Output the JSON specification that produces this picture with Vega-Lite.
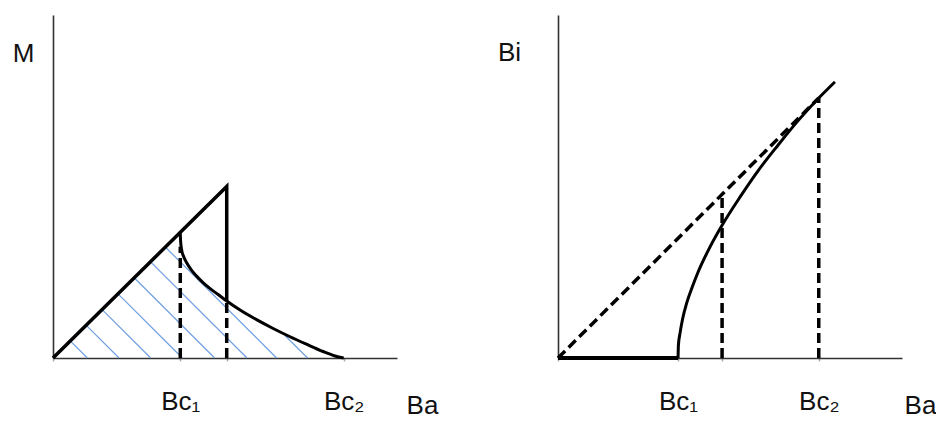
{
  "$schema": "https://vega.github.io/schema/vega-lite/v6.json",
  "autosize": {"type": "pad"},
  "padding": {"left": 12, "top": 15, "right": 0, "bottom": 0},
  "background": "white",
  "config": {
    "view": {"stroke": null},
    "font": "Liberation Sans",
    "axis": {
      "grid": false,
      "domainColor": "#333333",
      "domainWidth": 1.6,
      "titleFont": "Liberation Sans",
      "titleFontSize": 26,
      "titleFontWeight": "normal",
      "titleColor": "#111111",
      "labelFont": "Liberation Sans",
      "labelFontSize": 26,
      "labelColor": "#111111"
    },
    "axisX": {
      "tickColor": "#aaaaaa",
      "tickWidth": 1.5,
      "tickSize": 3,
      "labelPadding": 27,
      "labelOverlap": false,
      "labelFlush": false,
      "labelBound": false,
      "titleAlign": "center",
      "titleBaseline": "alphabetic"
    },
    "axisY": {
      "ticks": false,
      "labels": false,
      "titleAngle": 0,
      "titleAlign": "center",
      "titleBaseline": "alphabetic"
    }
  },
  "datasets": {
    "left_hatch": [
      {"ba": 1.0, "m": 0, "ba2": 0.5, "m2": 0.5},
      {"ba": 1.92, "m": 0, "ba2": 0.96, "m2": 0.96},
      {"ba": 2.84, "m": 0, "ba2": 1.43, "m2": 1.41},
      {"ba": 3.76, "m": 0, "ba2": 1.89, "m2": 1.87},
      {"ba": 4.7, "m": 0, "ba2": 2.36, "m2": 2.34},
      {"ba": 5.64, "m": 0, "ba2": 2.83, "m2": 2.81},
      {"ba": 6.5, "m": 0, "ba2": 3.27, "m2": 3.23},
      {"ba": 7.4, "m": 0, "ba2": 6.75, "m2": 0.65}
    ],
    "left_envelope": [
      {"i": 0, "ba": 0, "m": 0},
      {"i": 1, "ba": 5.05, "m": 5.0},
      {"i": 2, "ba": 5.05, "m": 1.66}
    ],
    "left_curve": [
      {"ba": 3.7, "m": 3.64},
      {"ba": 3.71, "m": 3.4},
      {"ba": 3.74, "m": 3.15},
      {"ba": 3.8, "m": 2.95},
      {"ba": 3.89, "m": 2.77},
      {"ba": 4.02, "m": 2.57},
      {"ba": 4.18, "m": 2.38},
      {"ba": 4.36, "m": 2.2},
      {"ba": 4.56, "m": 2.03},
      {"ba": 4.8, "m": 1.85},
      {"ba": 5.05, "m": 1.66},
      {"ba": 5.45, "m": 1.39},
      {"ba": 5.93, "m": 1.11},
      {"ba": 6.4, "m": 0.86},
      {"ba": 6.89, "m": 0.62},
      {"ba": 7.35, "m": 0.41},
      {"ba": 7.85, "m": 0.19},
      {"ba": 8.2, "m": 0.06},
      {"ba": 8.45, "m": 0.0}
    ],
    "left_dash": [
      {"ba": 3.7, "m": 0, "ba2": 3.7, "m2": 3.24},
      {"ba": 5.05, "m": 0, "ba2": 5.05, "m2": 1.66}
    ],
    "right_base": [
      {"ba": 0, "m": 0, "ba2": 3.49, "m2": 0}
    ],
    "right_curve": [
      {"ba": 3.49, "m": 0},
      {"ba": 3.5, "m": 0.37},
      {"ba": 3.55, "m": 0.74},
      {"ba": 3.62, "m": 1.13},
      {"ba": 3.74, "m": 1.6},
      {"ba": 3.9, "m": 2.06},
      {"ba": 4.07, "m": 2.5},
      {"ba": 4.42, "m": 3.24},
      {"ba": 4.77, "m": 3.87},
      {"ba": 5.29, "m": 4.69},
      {"ba": 5.81, "m": 5.45},
      {"ba": 6.4, "m": 6.21},
      {"ba": 6.98, "m": 6.92},
      {"ba": 7.58, "m": 7.58},
      {"ba": 8.05, "m": 8.05}
    ],
    "right_dash": [
      {"ba": 0, "m": 0, "ba2": 7.58, "m2": 7.58},
      {"ba": 4.77, "m": 0, "ba2": 4.77, "m2": 4.72},
      {"ba": 7.58, "m": 0, "ba2": 7.58, "m2": 7.58}
    ]
  },
  "spacing": 161,
  "bounds": "flush",
  "hconcat": [
    {
      "width": 344,
      "height": 343,
      "encoding": {
        "x": {
          "field": "ba", "type": "quantitative", "title": "Ba",
          "scale": {"domain": [0, 10], "nice": false},
          "axis": {
            "values": [0, 3.7, 5.05, 8.45],
            "labelExpr": "datum.value == 3.7 ? 'Bc₁' : datum.value == 8.45 ? 'Bc₂' : ''",
            "titleX": 369, "titleY": 55
          }
        },
        "y": {
          "field": "m", "type": "quantitative", "title": "M",
          "scale": {"domain": [0, 10], "nice": false},
          "axis": {"titleX": -30, "titleY": 46}
        }
      },
      "layer": [
        {
          "data": {"name": "left_hatch"},
          "mark": {"type": "rule", "color": "#6f9fe2", "strokeWidth": 1.2},
          "encoding": {"x2": {"field": "ba2"}, "y2": {"field": "m2"}}
        },
        {
          "data": {"name": "left_dash"},
          "mark": {"type": "rule", "color": "black", "strokeWidth": 3.5, "strokeDash": [10, 5]},
          "encoding": {"x2": {"field": "ba2"}, "y2": {"field": "m2"}}
        },
        {
          "data": {"name": "left_envelope"},
          "mark": {"type": "line", "color": "black", "strokeWidth": 3.5, "strokeJoin": "miter"},
          "encoding": {"order": {"field": "i"}}
        },
        {
          "data": {"name": "left_curve"},
          "mark": {"type": "line", "color": "black", "strokeWidth": 3, "interpolate": "monotone"}
        }
      ]
    },
    {
      "width": 344,
      "height": 343,
      "encoding": {
        "x": {
          "field": "ba", "type": "quantitative", "title": "Ba",
          "scale": {"domain": [0, 10], "nice": false},
          "axis": {
            "values": [0, 3.49, 4.77, 7.58],
            "labelExpr": "datum.value == 3.49 ? 'Bc₁' : datum.value == 7.58 ? 'Bc₂' : ''",
            "titleX": 362, "titleY": 55
          }
        },
        "y": {
          "field": "m", "type": "quantitative", "title": "Bi",
          "scale": {"domain": [0, 10], "nice": false},
          "axis": {"titleX": -49, "titleY": 45}
        }
      },
      "layer": [
        {
          "data": {"name": "right_dash"},
          "mark": {"type": "rule", "color": "black", "strokeWidth": 3.5, "strokeDash": [10, 5]},
          "encoding": {"x2": {"field": "ba2"}, "y2": {"field": "m2"}}
        },
        {
          "data": {"name": "right_base"},
          "mark": {"type": "rule", "color": "black", "strokeWidth": 4},
          "encoding": {"x2": {"field": "ba2"}, "y2": {"field": "m2"}}
        },
        {
          "data": {"name": "right_curve"},
          "mark": {"type": "line", "color": "black", "strokeWidth": 3, "interpolate": "monotone"}
        }
      ]
    }
  ]
}
